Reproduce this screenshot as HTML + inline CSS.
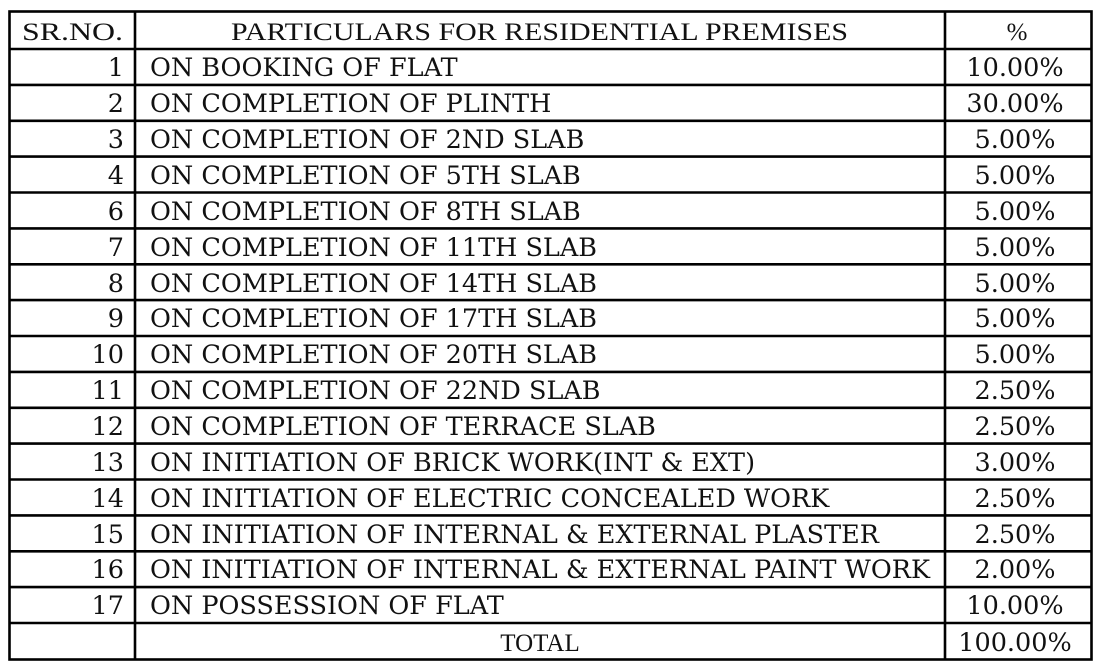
<!DOCTYPE html>
<html><head><style>
body{margin:0;background:#fff;width:1094px;height:663px;overflow:hidden}
svg{position:absolute;left:0;top:0}
text{font-family:"DejaVu Serif","Liberation Serif",serif;font-size:25.5px;fill:#111}
.h{font-family:"Liberation Serif",serif;font-size:25px}
</style></head><body>
<svg width="1094" height="663" viewBox="0 0 1094 663">
<g stroke="#000" stroke-width="2.6" fill="none">
<rect x="9.5" y="11.5" width="1082" height="648"/>
<line x1="135" y1="11" x2="135" y2="660"/>
<line x1="945" y1="11" x2="945" y2="660"/>
<line x1="9" y1="49" x2="1092" y2="49"/>
<line x1="9" y1="84.9" x2="1092" y2="84.9"/>
<line x1="9" y1="120.8" x2="1092" y2="120.8"/>
<line x1="9" y1="156.6" x2="1092" y2="156.6"/>
<line x1="9" y1="192.5" x2="1092" y2="192.5"/>
<line x1="9" y1="228.4" x2="1092" y2="228.4"/>
<line x1="9" y1="264.3" x2="1092" y2="264.3"/>
<line x1="9" y1="300.1" x2="1092" y2="300.1"/>
<line x1="9" y1="336" x2="1092" y2="336"/>
<line x1="9" y1="371.9" x2="1092" y2="371.9"/>
<line x1="9" y1="407.8" x2="1092" y2="407.8"/>
<line x1="9" y1="443.6" x2="1092" y2="443.6"/>
<line x1="9" y1="479.5" x2="1092" y2="479.5"/>
<line x1="9" y1="515.4" x2="1092" y2="515.4"/>
<line x1="9" y1="551.3" x2="1092" y2="551.3"/>
<line x1="9" y1="587.1" x2="1092" y2="587.1"/>
<line x1="9" y1="623" x2="1092" y2="623"/>
</g>
<text class="h" x="22" y="40" textLength="101" lengthAdjust="spacingAndGlyphs">SR.NO.</text>
<text class="h" x="231" y="40" textLength="617" lengthAdjust="spacingAndGlyphs">PARTICULARS FOR RESIDENTIAL PREMISES</text>
<text class="h" x="1017" y="40" text-anchor="middle">%</text>
<g text-anchor="end">
<text x="124" y="76">1</text><text x="124" y="112">2</text><text x="124" y="148">3</text><text x="124" y="184">4</text><text x="124" y="220">6</text><text x="124" y="256">7</text><text x="124" y="292">8</text><text x="124" y="327">9</text><text x="124" y="363">10</text><text x="124" y="399">11</text><text x="124" y="435">12</text><text x="124" y="471">13</text><text x="124" y="507">14</text><text x="124" y="543">15</text><text x="124" y="578">16</text><text x="124" y="614">17</text>
</g>
<g>
<text x="150" y="76">ON BOOKING OF FLAT</text>
<text x="150" y="112">ON COMPLETION OF PLINTH</text>
<text x="150" y="148">ON COMPLETION OF 2ND SLAB</text>
<text x="150" y="184">ON COMPLETION OF 5TH SLAB</text>
<text x="150" y="220">ON COMPLETION OF 8TH SLAB</text>
<text x="150" y="256">ON COMPLETION OF 11TH SLAB</text>
<text x="150" y="292">ON COMPLETION OF 14TH SLAB</text>
<text x="150" y="327">ON COMPLETION OF 17TH SLAB</text>
<text x="150" y="363">ON COMPLETION OF 20TH SLAB</text>
<text x="150" y="399">ON COMPLETION OF 22ND SLAB</text>
<text x="150" y="435">ON COMPLETION OF TERRACE SLAB</text>
<text x="150" y="471">ON INITIATION OF BRICK WORK(INT &amp; EXT)</text>
<text x="150" y="507">ON INITIATION OF ELECTRIC CONCEALED WORK</text>
<text x="150" y="543">ON INITIATION OF INTERNAL &amp; EXTERNAL PLASTER</text>
<text x="150" y="578" textLength="780" lengthAdjust="spacingAndGlyphs">ON INITIATION OF INTERNAL &amp; EXTERNAL PAINT WORK</text>
<text x="150" y="614">ON POSSESSION OF FLAT</text>
</g>
<g text-anchor="middle">
<text x="1015" y="76">10.00%</text><text x="1015" y="112">30.00%</text><text x="1015" y="148">5.00%</text><text x="1015" y="184">5.00%</text><text x="1015" y="220">5.00%</text><text x="1015" y="256">5.00%</text><text x="1015" y="292">5.00%</text><text x="1015" y="327">5.00%</text><text x="1015" y="363">5.00%</text><text x="1015" y="399">2.50%</text><text x="1015" y="435">2.50%</text><text x="1015" y="471">3.00%</text><text x="1015" y="507">2.50%</text><text x="1015" y="543">2.50%</text><text x="1015" y="578">2.00%</text><text x="1015" y="614">10.00%</text>
<text class="h" x="540" y="651">TOTAL</text>
<text x="1015" y="651">100.00%</text>
</g>
</svg>
</body></html>
